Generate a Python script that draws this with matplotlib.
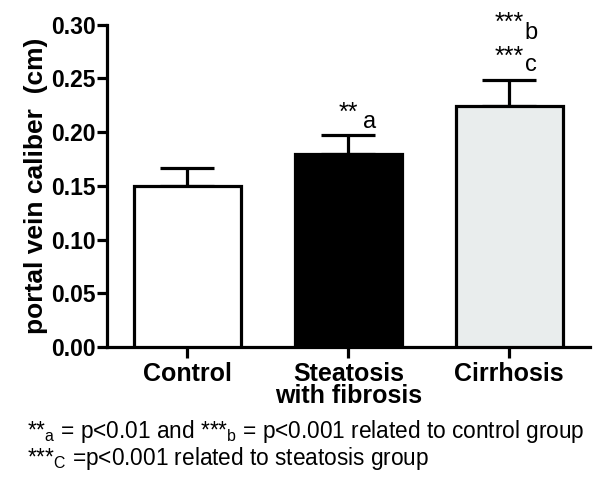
import matplotlib
matplotlib.use("Agg")
from matplotlib import pyplot as plt
import numpy as np

# data
groups = ["Control", "Steatosis\nwith fibrosis", "Cirrhosis"]
means = [0.150, 0.180, 0.224]
sem = [0.017, 0.0175, 0.025]
bar_colors = ["white", "black", "#e9eded"]
yticks = [0.00, 0.05, 0.10, 0.15, 0.20, 0.25, 0.30]

plt.rcParams["font.family"] = ["Liberation Sans", "DejaVu Sans"]
plt.rcParams["mathtext.fontset"] = "custom"
plt.rcParams["mathtext.rm"] = "Liberation Sans"
plt.rcParams["mathtext.default"] = "regular"

lw = 2.3
fig = plt.figure(figsize=(6, 4.86), dpi=100)
ax = fig.add_axes([0.178, 0.286, 0.805, 0.663])

x = np.arange(len(groups))
ax.bar(x, means, width=0.665, color=bar_colors, edgecolor="black", linewidth=lw, zorder=3)
ax.errorbar(x, means, yerr=[np.zeros(len(sem)), sem], fmt="none", ecolor="black",
            elinewidth=lw, capsize=19.5, capthick=lw, zorder=2)

ax.set_xlim(-0.5, 2.5)
ax.set_ylim(0, 0.30)
ax.set_yticks(yticks)
ax.set_yticklabels(["%.2f" % v for v in yticks], fontsize=16.5, fontweight="bold")
ax.set_xticks(x)
ax.set_xticklabels(groups, fontsize=18, fontweight="bold", linespacing=0.9)
ax.set_ylabel("portal vein caliber  (cm)", fontsize=19, fontweight="bold", labelpad=2)

for s in ["top", "right"]:
    ax.spines[s].set_visible(False)
for s in ["left", "bottom"]:
    ax.spines[s].set_linewidth(lw)
ax.tick_params(axis="y", length=7, width=lw, pad=1)
ax.tick_params(axis="x", length=8, width=lw, pad=3)

# significance marks above the error bars
tops = [m + e for m, e in zip(means, sem)]
marks = {1: [("**", "a", 11, 5)], 2: [("***", "c", 11.5, 6.5), ("***", "b", 36, 29.5)]}
for i, rows in marks.items():
    for st, let, dy_star, dy_let in rows:
        ax.annotate(st, (x[i], tops[i]), xytext=(0, dy_star), textcoords="offset points",
                    ha="center", va="baseline", fontsize=18)
        ax.annotate(let, (x[i], tops[i]), xytext=(15.5, dy_let), textcoords="offset points",
                    ha="center", va="baseline", fontsize=17)

fig.text(0.045, 0.113, r"**$_{a}$ = p<0.01 and ***$_{b}$ = p<0.001 related to control group",
         fontsize=16.3, va="center")
fig.text(0.045, 0.056, r"***$_{C}$ =p<0.001 related to steatosis group", fontsize=16.3, va="center")

plt.savefig("out.png", dpi=100)
